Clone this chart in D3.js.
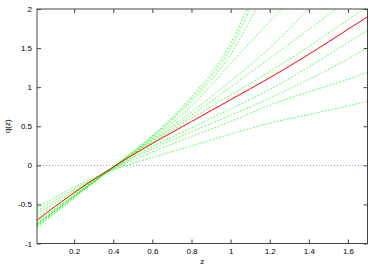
<!DOCTYPE html>
<html>
<head>
<meta charset="utf-8">
<script src="https://cdn.jsdelivr.net/npm/d3@7"></script>
<style>
  body { margin: 0; background: #fff; }
  svg { display: block; }
  text { font-family: "Liberation Sans", Arial, sans-serif; }
</style>
</head>
<body>
<div id="chart"></div>
<script>
var width  = 380;
var height = 266;
var margin = {top: 9, right: 12.5, bottom: 22.5, left: 37};

// z values where the curves were read
var zGrid = [0.01, 0.2, 0.4, 0.6, 0.8, 1.0, 1.2, 1.4, 1.6, 1.7];

// red (solid) curve
var redQ = [-0.70, -0.35, -0.02, 0.28, 0.56, 0.84, 1.12, 1.42, 1.74, 1.90];

// green curves that leave through the top of the plot (q = 2 at exitZ)
var steepQ = [
  [-0.80, -0.42, -0.02, 0.38, 0.88, 1.56],
  [-0.78, -0.41, -0.02, 0.37, 0.85, 1.50],
  [-0.77, -0.40, -0.02, 0.36, 0.82, 1.42],
  [-0.76, -0.40, -0.03, 0.34, 0.76, 1.30, 1.84],
  [-0.75, -0.39, -0.03, 0.32, 0.68, 1.08, 1.50],
  [-0.74, -0.39, -0.03, 0.31, 0.64, 1.00, 1.37, 1.74],
  [-0.72, -0.38, -0.03, 0.29, 0.60, 0.90, 1.20, 1.52, 1.86]
];
var steepExitZ = [1.085, 1.100, 1.131, 1.264, 1.397, 1.540, 1.683];

// green curves that reach the right edge
var shallowQ = [
  [-0.66, -0.36, -0.04, 0.24, 0.48, 0.72, 0.97, 1.26, 1.57, 1.73],
  [-0.62, -0.33, -0.04, 0.21, 0.43, 0.64, 0.86, 1.10, 1.36, 1.50],
  [-0.58, -0.31, -0.05, 0.17, 0.37, 0.56, 0.77, 0.94, 1.10, 1.19],
  [-0.54, -0.28, -0.06, 0.10, 0.25, 0.40, 0.54, 0.65, 0.76, 0.82]
];

var xTicks = [0.2, 0.4, 0.6, 0.8, 1, 1.2, 1.4, 1.6];
var yTicks = [-1, -0.5, 0, 0.5, 1, 1.5, 2];

var x = d3.scaleLinear().domain([0.01, 1.7]).range([margin.left, width - margin.right]);
var y = d3.scaleLinear().domain([-1, 2]).range([height - margin.bottom, margin.top]);

var svg = d3.select('#chart')
  .append('svg')
  .attr('width', width)
  .attr('height', height)
  .style('font-size', '8px');

svg.append('clipPath')
  .attr('id', 'plot')
  .append('rect')
  .attr('x', x.range()[0])
  .attr('y', y.range()[1])
  .attr('width', x.range()[1] - x.range()[0])
  .attr('height', y.range()[0] - y.range()[1]);

var line = d3.line()
  .x(function(d) { return x(d[0]); })
  .y(function(d) { return y(d[1]); })
  .curve(d3.curveMonotoneX);

var g = svg.append('g').attr('clip-path', 'url(#plot)');

// q = 0 reference line
g.append('line')
  .attr('x1', x.range()[0]).attr('x2', x.range()[1])
  .attr('y1', Math.round(y(0)) + 0.5).attr('y2', Math.round(y(0)) + 0.5)
  .attr('stroke', '#6a6ae8')
  .attr('stroke-width', 0.7)
  .attr('stroke-dasharray', '1,2');

var greens = steepQ.map(function(qs, i) {
  var pts = qs.map(function(q, j) { return [zGrid[j], q]; });
  pts.push([steepExitZ[i], 2]);
  return pts;
}).concat(shallowQ.map(function(qs) {
  return qs.map(function(q, j) { return [zGrid[j], q]; });
}));

g.selectAll('.green')
  .data(greens)
  .enter()
  .append('path')
  .attr('class', 'green')
  .attr('d', line)
  .attr('fill', 'none')
  .attr('stroke', '#22f522')
  .attr('stroke-width', 0.7)
  .attr('stroke-dasharray', '2,1.5');

g.append('path')
  .datum(redQ.map(function(q, j) { return [zGrid[j], q]; }))
  .attr('d', line)
  .attr('fill', 'none')
  .attr('stroke', '#ff0000')
  .attr('stroke-width', 1);

// axes, ticks pointing inward on all four sides
var fmt = function(d) { return String(d); };

svg.append('g')
  .attr('transform', 'translate(0,' + y.range()[0] + ')')
  .call(d3.axisBottom(x).tickValues(xTicks).tickFormat(fmt).tickSizeInner(-4).tickSizeOuter(0).tickPadding(5));
svg.append('g')
  .attr('transform', 'translate(0,' + y.range()[1] + ')')
  .call(d3.axisTop(x).tickValues(xTicks).tickFormat('').tickSizeInner(-4).tickSizeOuter(0));
svg.append('g')
  .attr('transform', 'translate(' + x.range()[0] + ',0)')
  .call(d3.axisLeft(y).tickValues(yTicks).tickFormat(fmt).tickSizeInner(-4).tickSizeOuter(0).tickPadding(5));
svg.append('g')
  .attr('transform', 'translate(' + x.range()[1] + ',0)')
  .call(d3.axisRight(y).tickValues(yTicks).tickFormat('').tickSizeInner(-4).tickSizeOuter(0));

svg.selectAll('.domain').remove();
svg.selectAll('.tick text').attr('fill', '#000').style('font-size', '8px');
svg.selectAll('.tick line').attr('stroke', '#444');

svg.append('rect')
  .attr('x', x.range()[0])
  .attr('y', y.range()[1])
  .attr('width', x.range()[1] - x.range()[0])
  .attr('height', y.range()[0] - y.range()[1])
  .attr('fill', 'none')
  .attr('stroke', '#444')
  .attr('stroke-width', 1);

svg.append('text')
  .attr('x', (x.range()[0] + x.range()[1]) / 2)
  .attr('y', 264)
  .attr('text-anchor', 'middle')
  .text('z');

svg.append('text')
  .attr('transform', 'translate(10,' + ((y.range()[0] + y.range()[1]) / 2) + ')rotate(-90)')
  .attr('text-anchor', 'middle')
  .text('q(z)');
</script>
</body>
</html>
